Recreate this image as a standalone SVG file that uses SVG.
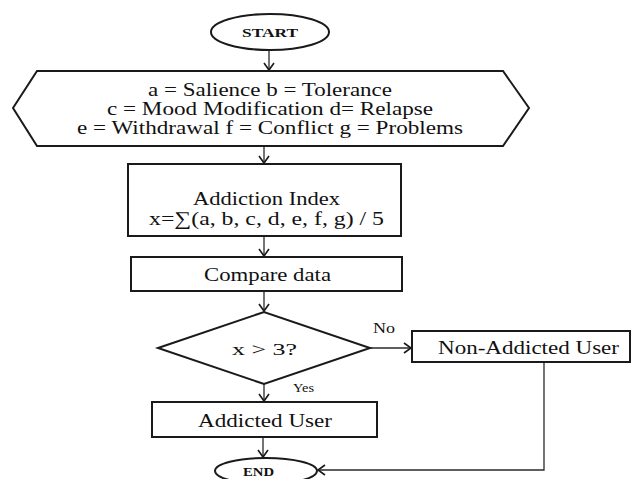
<svg xmlns="http://www.w3.org/2000/svg" width="636" height="479" viewBox="0 0 636 479">
<defs>
<style>
.s{fill:#fff;stroke:#1a1a1a;stroke-width:2}
.c{fill:none;stroke:#2a2a2a;stroke-width:1.3}
.t{font-family:"Liberation Serif","Times New Roman",serif;fill:#111;text-anchor:middle}
.b{font-weight:bold}
</style>
<marker id="ah" markerUnits="userSpaceOnUse" markerWidth="14" markerHeight="14" refX="10" refY="6" orient="auto">
<path d="M3,1 L10,6 L3,11" fill="none" stroke="#1a1a1a" stroke-width="1.6"/>
</marker>
</defs>
<rect width="636" height="479" fill="#fff"/>
<g id="connectors">
<line class="c" x1="269" y1="50" x2="269" y2="70" marker-end="url(#ah)"/>
<line class="c" x1="264" y1="146" x2="264" y2="163" marker-end="url(#ah)"/>
<line class="c" x1="264" y1="236" x2="264" y2="256" marker-end="url(#ah)"/>
<line class="c" x1="264" y1="291" x2="264" y2="311" marker-end="url(#ah)"/>
<line class="c" x1="370" y1="348" x2="411" y2="348" marker-end="url(#ah)"/>
<line class="c" x1="264" y1="384" x2="264" y2="401" marker-end="url(#ah)"/>
<line class="c" x1="263" y1="437" x2="263" y2="457" marker-end="url(#ah)"/>
<polyline class="c" points="544,362 544,470 318,470" marker-end="url(#ah)"/>
<text class="t" x="384" y="333" font-size="14" textLength="22" lengthAdjust="spacingAndGlyphs">No</text>
<text class="t" x="303.5" y="392" font-size="13" textLength="21" lengthAdjust="spacingAndGlyphs">Yes</text>
</g>
<g id="start">
<ellipse class="s" cx="270" cy="32" rx="59" ry="18"/>
<text class="t b" x="270" y="37" font-size="13.5" textLength="56" lengthAdjust="spacingAndGlyphs">START</text>
</g>
<g id="inputs">
<polygon class="s" points="13,108 37,71 503,71 529,108 503,146 37,146"/>
<text class="t" x="270" y="96" font-size="19" textLength="244" lengthAdjust="spacingAndGlyphs">a = Salience b = Tolerance</text>
<text class="t" x="270" y="115" font-size="19" textLength="326" lengthAdjust="spacingAndGlyphs">c = Mood Modification d= Relapse</text>
<text class="t" x="270" y="134" font-size="19" textLength="386" lengthAdjust="spacingAndGlyphs">e = Withdrawal f = Conflict g = Problems</text>
</g>
<g id="index">
<rect class="s" x="128" y="164" width="273" height="72"/>
<text class="t" x="266.5" y="205" font-size="19" textLength="147" lengthAdjust="spacingAndGlyphs">Addiction Index</text>
<text class="t" x="266.5" y="225" font-size="19" textLength="235" lengthAdjust="spacingAndGlyphs">x=∑(a, b, c, d, e, f, g) / 5</text>
</g>
<g id="compare">
<rect class="s" x="131" y="257" width="271" height="34"/>
<text class="t" x="267.5" y="281" font-size="18.5" textLength="127" lengthAdjust="spacingAndGlyphs">Compare data</text>
</g>
<g id="decision">
<polygon class="s" points="158,348 264,312 370,348 264,384"/>
<text class="t" x="264.5" y="355" font-size="17" textLength="65" lengthAdjust="spacingAndGlyphs">x &gt; 3?</text>
</g>
<g id="nonaddicted">
<rect class="s" x="412" y="331" width="218" height="31"/>
<text class="t" x="528.5" y="354" font-size="18.5" textLength="181" lengthAdjust="spacingAndGlyphs">Non-Addicted User</text>
</g>
<g id="addicted">
<rect class="s" x="152" y="402" width="225" height="35"/>
<text class="t" x="265" y="427" font-size="18.5" textLength="134" lengthAdjust="spacingAndGlyphs">Addicted User</text>
</g>
<g id="end">
<ellipse class="s" cx="266" cy="471" rx="51" ry="13"/>
<text class="t b" x="258.5" y="476" font-size="12.5" textLength="31" lengthAdjust="spacingAndGlyphs">END</text>
</g>
</svg>
